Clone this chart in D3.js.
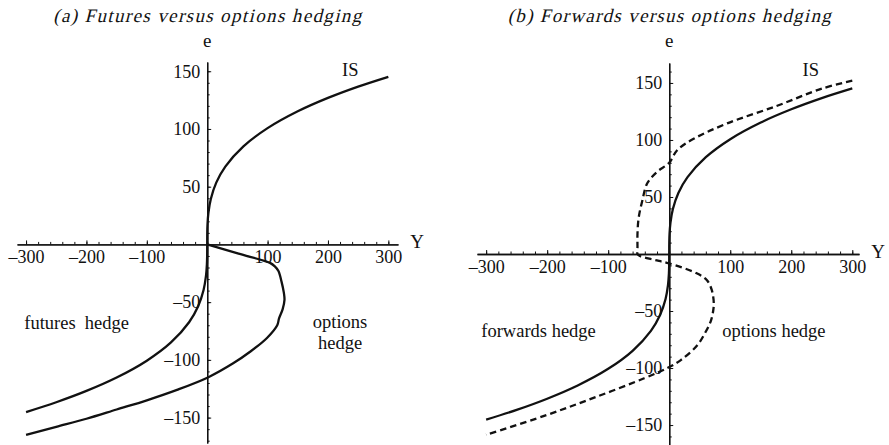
<!DOCTYPE html>
<html>
<head>
<meta charset="utf-8">
<script src="https://cdn.jsdelivr.net/npm/d3@7"></script>
<style>
  html, body { margin: 0; padding: 0; background: #fff; }
  svg { display: block; }
  text { font-family: "Liberation Serif", "Times New Roman", serif; fill: #111; }
</style>
</head>
<body>
<svg id="chart" width="889" height="445"></svg>
<script>
// IS curve (shared by both panels): output Y against exchange rate e
const isY = [-300, -250, -200, -150, -100, -60, -30, -15, -6, -2, -0.5, -0.1, 0, 0.1, 0.5, 2, 6, 15, 30, 60, 100, 150, 200, 250, 300];
const isE = [-145.2, -136.7, -126.9, -115.3, -100.7, -84.9, -67.4, -53.5, -39.4, -27.3, -17.2, -10.1, 0, 10.1, 17.2, 27.3, 39.4, 53.5, 67.4, 84.9, 100.7, 115.3, 126.9, 136.7, 145.2];

// Panel (a): options hedge curve
const optAY = [0, 52, 104, 112, 118, 123, 127, 128, 125, 119, 116, 99, 71, 43, 2, -50, -100, -150, -200, -250, -300];
const optAE = [0, -8, -16, -19, -23, -32, -42, -48, -56, -64, -70, -81, -93, -103, -115, -126, -135, -143, -151, -158, -165];

// Panel (b): options hedge curve (dashed)
const optBY = [300, 250, 177, 95, 40, 13, 0, -20, -36, -44, -50, -52, -52, -52, -48, -26, -1.5, 45, 61.5, 69.7, 73, 72, 68, 60, 46, 19, -3, -41, -123, -205, -300];
const optBE = [152, 145, 130, 114.5, 101, 91, 80, 72, 62, 47, 32, 18, 6, 0, -1.8, -5, -8.1, -16.9, -22.8, -31.5, -43, -50, -59, -68, -80, -93, -100, -109, -126, -142, -158.5];

// Axis ticks and titles
const xMajor = [-300, -200, -100, 100, 200, 300];
const yMajor = [-150, -100, -50, 50, 100, 150];
const titles = ["(a) Futures versus options hedging", "(b) Forwards versus options hedging"];

const svg = d3.select("#chart");
const fmt = v => (v < 0 ? "\u2013" + Math.abs(v) : String(v));
const SERIF = "'Liberation Serif', 'Times New Roman', serif";

const panels = [
  {
    title: titles[0],
    titleWidth: 308,
    x: d3.scaleLinear().domain([-315, 316]).range([17, 398]),
    y: d3.scaleLinear().domain([-172, 158]).range([443, 62]),
    yMinor: d3.range(-170, 151, 10),
    series: [
      { Y: isY, E: isE, dash: null },
      { Y: optAY, E: optAE, dash: null }
    ],
    labels: [
      { t: "IS", Y: 237, E: 146, anchor: "middle" },
      { t: "futures  hedge", Y: -303, E: -73, anchor: "start" },
      { t: "options", Y: 220, E: -72, anchor: "middle" },
      { t: "hedge", Y: 220, E: -91, anchor: "middle" }
    ]
  },
  {
    title: titles[1],
    titleWidth: 323,
    x: d3.scaleLinear().domain([-315, 311]).range([477, 859]),
    y: d3.scaleLinear().domain([-167.5, 167.5]).range([445, 63]),
    yMinor: d3.range(-160, 161, 10),
    series: [
      { Y: isY, E: isE, dash: null },
      { Y: optBY, E: optBE, dash: "6.5,4" }
    ],
    labels: [
      { t: "IS", Y: 232, E: 156, anchor: "middle" },
      { t: "forwards hedge", Y: -308, E: -73, anchor: "start" },
      { t: "options hedge", Y: 87, E: -73, anchor: "start" }
    ]
  }
];

panels.forEach(p => {
  const g = svg.append("g");
  const x0 = p.x(0), y0 = p.y(0);

  // title, slanted serif
  g.append("g")
    .attr("transform", `translate(${x0},22) skewX(-14)`)
    .append("text")
    .attr("x", 0).attr("y", 0)
    .attr("text-anchor", "middle")
    .style("font-family", SERIF)
    .style("font-size", "19px")
    .attr("textLength", p.titleWidth)
    .attr("lengthAdjust", "spacing")
    .text(p.title);

  // horizontal axis: minor ticks, then major ticks with labels
  g.append("g").attr("transform", `translate(0,${y0})`)
    .call(d3.axisBottom(p.x).tickValues(d3.range(-300, 301, 20)).tickSizeInner(-2.5).tickSizeOuter(0).tickFormat(""));
  g.append("g").attr("transform", `translate(0,${y0})`)
    .call(d3.axisBottom(p.x).tickValues(xMajor).tickSizeInner(-4).tickSizeOuter(0).tickPadding(6).tickFormat(fmt));

  // vertical axis
  g.append("g").attr("transform", `translate(${x0},0)`)
    .call(d3.axisLeft(p.y).tickValues(p.yMinor).tickSizeInner(-2.5).tickSizeOuter(0).tickFormat(""));
  g.append("g").attr("transform", `translate(${x0},0)`)
    .call(d3.axisLeft(p.y).tickValues(yMajor).tickSizeInner(-4).tickSizeOuter(0).tickPadding(7).tickFormat(fmt));

  g.selectAll("g").attr("font-family", null).attr("font-size", null);
  g.selectAll(".domain").attr("stroke", "#111").attr("stroke-width", 1.3);
  g.selectAll(".tick line").attr("stroke", "#111").attr("stroke-width", 1);
  g.selectAll(".tick text")
    .style("font-family", SERIF)
    .style("font-size", "18px")
    .attr("fill", "#111");

  // axis names
  g.append("text").attr("x", x0).attr("y", 47).attr("text-anchor", "middle")
    .style("font-family", SERIF).style("font-size", "19px").text("e");
  g.append("text").attr("x", p.x.range()[1] + 19).attr("y", y0 + 4).attr("text-anchor", "middle")
    .style("font-family", SERIF).style("font-size", "19px").text("Y");

  // curves
  const line = d3.line()
    .x(d => p.x(d[0]))
    .y(d => p.y(d[1]))
    .curve(d3.curveCatmullRom.alpha(0.5));

  p.series.forEach(s => {
    const pts = s.Y.map((v, i) => [v, s.E[i]]);
    g.append("path")
      .attr("d", line(pts))
      .attr("fill", "none")
      .attr("stroke", "#111")
      .attr("stroke-width", 2.3)
      .attr("stroke-linejoin", "round")
      .attr("stroke-dasharray", s.dash);
  });

  // annotations
  p.labels.forEach(l => {
    g.append("text")
      .attr("x", p.x(l.Y)).attr("y", p.y(l.E))
      .attr("text-anchor", l.anchor)
      .style("font-family", SERIF)
      .style("font-size", "18.5px")
      .style("white-space", "pre")
      .text(l.t);
  });
});
</script>
</body>
</html>
